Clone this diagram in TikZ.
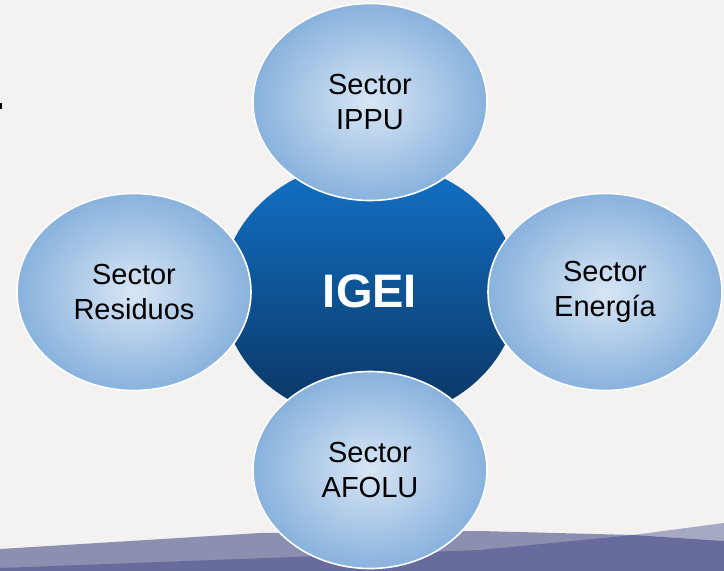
\documentclass[tikz,border=0pt]{standalone}
\usepackage{fontspec}
\setmainfont{Liberation Sans}
\usetikzlibrary{shapes.geometric}
\definecolor{paper}{RGB}{243,242,240}
\definecolor{bandmid}{RGB}{139,143,176}
\definecolor{bandlight}{RGB}{166,169,196}
\definecolor{banddark}{RGB}{104,108,156}
\definecolor{coretop}{RGB}{18,114,200}
\definecolor{corebot}{RGB}{10,52,96}
\definecolor{satin}{RGB}{216,230,245}
\definecolor{satout}{RGB}{136,178,221}
\tikzset{
  sector/.style={ellipse, minimum width=234pt, minimum height=197pt, inner sep=0pt,
    draw=white, line width=1.6pt, inner color=satin, outer color=satout,
    align=center, font=\fontsize{29}{35}\selectfont, text=black},
  core/.style={ellipse, minimum width=296pt, minimum height=260pt, inner sep=0pt,
    top color=coretop, bottom color=corebot, draw=none,
    font=\fontsize{47}{50}\selectfont\bfseries, text=white}
}
\begin{document}
\begin{tikzpicture}[x=1pt, y=-1pt]
\useasboundingbox (0,0) rectangle (724,571);
\fill[paper] (0,0) rectangle (724,571);
% small dark mark at the left edge
\fill[black] (0,103) rectangle (2,109);
% bottom bands
\fill[bandmid] (0,549) -- (260,533) -- (480,531) -- (633,535) -- (724,541) -- (724,571) -- (0,571) -- cycle;
\fill[bandlight] (633,535) -- (724,523) -- (724,541) -- cycle;
\fill[banddark] (0,568) -- (480,550) -- (633,535) -- (724,541) -- (724,571) -- (0,571) -- cycle;
% central node
\node[core] (igei) at (370,291) {IGEI};
% sectors
\node[sector] (ippu) at (370,102) {Sector\\IPPU};
\node[sector] (residuos) at (134,292) {Sector\\Residuos};
\node[sector] (energia) at (605,292) {Sector\\Energía};
\node[sector] (afolu) at (370,470) {Sector\\AFOLU};
\end{tikzpicture}
\end{document}
